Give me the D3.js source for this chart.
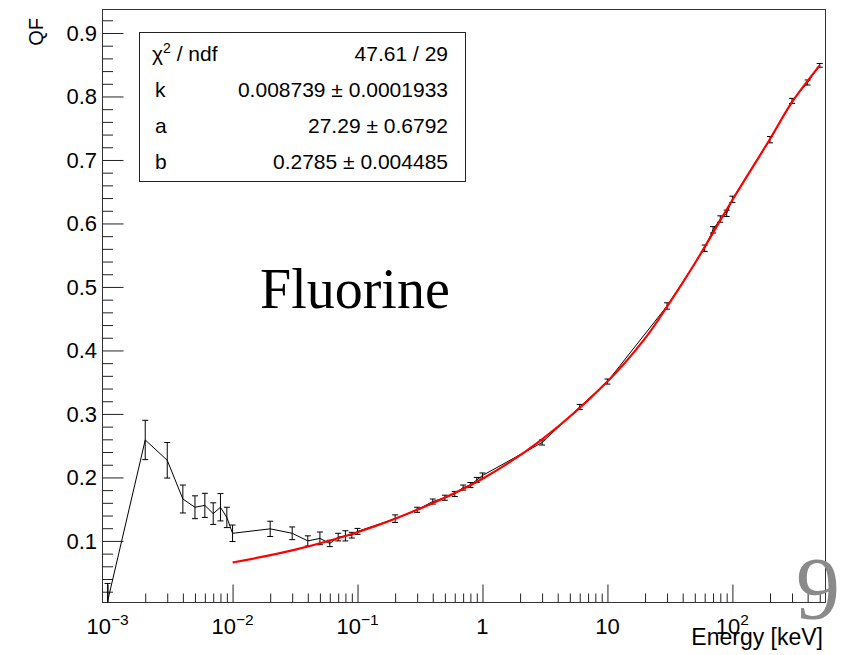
<!DOCTYPE html>
<html><head><meta charset="utf-8">
<script src="https://cdn.jsdelivr.net/npm/d3@7"></script>
<style>body{margin:0;background:#fff}svg{display:block}</style>
</head><body><svg id="c" width="846" height="655"></svg>
<script>
// ---- data ----
const energy = [0.001,0.002,0.003,0.004,0.005,0.006,0.007,0.008,0.009,0.01,0.02,0.03,0.04,0.05,0.06,0.07,0.08,0.09,0.1,0.2,0.3,0.4,0.5,0.6,0.7,0.8,0.9,1,3,6,10,30,60,70,80,90,100,200,300,400,500];
const qf = [0.005,0.259,0.227,0.166,0.153,0.156,0.143,0.153,0.137,0.112,0.119,0.112,0.100,0.104,0.096,0.106,0.108,0.109,0.115,0.135,0.149,0.162,0.168,0.174,0.184,0.188,0.196,0.203,0.255,0.311,0.351,0.470,0.561,0.590,0.607,0.616,0.638,0.732,0.793,0.822,0.849];
const qfErr = [0.028,0.031,0.028,0.022,0.018,0.019,0.017,0.0215,0.016,0.013,0.012,0.010,0.008,0.010,0.005,0.006,0.008,0.0045,0.0047,0.006,0.004,0.004,0.004,0.004,0.004,0.004,0.004,0.004,0.004,0.004,0.004,0.005,0.005,0.005,0.005,0.005,0.005,0.005,0.004,0.004,0.003];
const fitEnergy = [0.01,0.03,0.1,0.3,1,3,10,20,30,50,100,200,300,500];
const fitQF = [0.066,0.085,0.1136,0.149,0.198,0.260,0.351,0.419,0.469,0.537,0.637,0.733,0.791,0.849];
const yTicks = [0.1,0.2,0.3,0.4,0.5,0.6,0.7,0.8,0.9];
const xTickValues = [0.001,0.01,0.1,1,10,100];
const xTickBase = ["10","10","10","1","10","10"];
const xTickSup = ["\u22123","\u22122","\u22121","","","2"];
const statLabels = ["k","a","b"];
const statValues = ["47.61 / 29","0.008739 \u00b1 0.0001933","27.29 \u00b1 0.6792","0.2785 \u00b1 0.004485"];

// ---- layout ----
const L=102.5, R=825.5, T=9.5, B=602.5;
const svg = d3.select("#c");
const x = d3.scaleLog().domain([9.1e-4, 556]).range([L, R]);
const y = d3.scaleLinear().domain([0.003, 0.937]).range([B, T]);
const sans = "'Liberation Sans', Arial, Helvetica, sans-serif";
const serif = "'Liberation Serif', 'Times New Roman', serif";

svg.append("clipPath").attr("id","pc").append("rect")
  .attr("x",L).attr("y",T).attr("width",R-L).attr("height",B-T);

// frame
svg.append("rect").attr("x",L).attr("y",T).attr("width",R-L).attr("height",B-T)
  .attr("fill","none").attr("stroke","#333").attr("stroke-width",1);

// x axis ticks (log major + minor)
const xMinor = [];
for (let e=-4; e<=3; e++) for (let m=1; m<=9; m++) {
  const v = m*Math.pow(10,e);
  if (v>=x.domain()[0] && v<=x.domain()[1]) xMinor.push({v, major: m===1});
}
const xAxis = d3.axisBottom(x).tickValues(xMinor.map(d=>d.v)).tickSize(0).tickFormat("");
const xg = svg.append("g").attr("transform",`translate(0,${B})`).call(xAxis);
xg.select(".domain").remove();
xg.selectAll(".tick line").attr("y2", (d,i)=> xMinor[i].major ? -18 : -9).attr("stroke","#222");

xTickValues.forEach((v,i)=>{
  const t = svg.append("text").attr("y",634).attr("font-family",sans).attr("font-size",22).attr("fill","#000");
  t.append("tspan").text(xTickBase[i]);
  if (xTickSup[i]) t.append("tspan").attr("dy",-9).attr("font-size",15.5).text(xTickSup[i]);
  const w = t.node().getComputedTextLength();
  t.attr("x", x(v) - w/2);
});

// y axis ticks
const yMinor = d3.range(0.02, 0.937, 0.02).map(v=>+v.toFixed(2));
const yAxis = d3.axisLeft(y).tickValues(yMinor).tickSize(0).tickFormat("");
const yg = svg.append("g").attr("transform",`translate(${L},0)`).call(yAxis);
yg.select(".domain").remove();
yg.selectAll(".tick line").attr("x2", d => (Math.round(d*100)%10===0) ? 21 : 10.5).attr("stroke","#222");
svg.selectAll(".ylab").data(yTicks).enter().append("text")
  .attr("x",97).attr("y",d=>y(d)).attr("dy","0.36em").attr("text-anchor","end")
  .attr("font-family",sans).attr("font-size",22).text(d=>d.toFixed(1));

// axis titles
svg.append("text").attr("transform","translate(43,18) rotate(-90)").attr("text-anchor","end")
  .attr("font-family",sans).attr("font-size",20).text("QF");
svg.append("text").attr("x",823).attr("y",645).attr("text-anchor","end")
  .attr("font-family",sans).attr("font-size",23).text("Energy [keV]");

// data
const plot = svg.append("g").attr("clip-path","url(#pc)");
const pts = energy.map((e,i)=>({e, q: qf[i], s: qfErr[i]}));
plot.append("path").datum(pts)
  .attr("d", d3.line().x(d=>x(d.e)).y(d=>y(d.q)))
  .attr("fill","none").attr("stroke","#000").attr("stroke-width",1);
const eb = plot.selectAll(".eb").data(pts).enter().append("g");
eb.append("line").attr("x1",d=>x(d.e)).attr("x2",d=>x(d.e)).attr("y1",d=>y(d.q-d.s)).attr("y2",d=>y(d.q+d.s)).attr("stroke","#000");
eb.append("line").attr("x1",d=>x(d.e)-3).attr("x2",d=>x(d.e)+3).attr("y1",d=>y(d.q-d.s)).attr("y2",d=>y(d.q-d.s)).attr("stroke","#000");
eb.append("line").attr("x1",d=>x(d.e)-3).attr("x2",d=>x(d.e)+3).attr("y1",d=>y(d.q+d.s)).attr("y2",d=>y(d.q+d.s)).attr("stroke","#000");

// fit
const fit = fitEnergy.map((e,i)=>({e, q: fitQF[i]}));
plot.append("path").datum(fit)
  .attr("d", d3.line().x(d=>x(d.e)).y(d=>y(d.q)).curve(d3.curveCatmullRom.alpha(0.5)))
  .attr("fill","none").attr("stroke","#ff0000").attr("stroke-width",2.2);

// stats box
svg.append("rect").attr("x",139.5).attr("y",32.5).attr("width",326).attr("height",149)
  .attr("fill","#fff").attr("stroke","#222");
const rowsY = [61,97,133,169];
const fs = 21;
const chi = svg.append("text").attr("x",152).attr("y",rowsY[0]).attr("font-family",sans).attr("font-size",fs);
chi.append("tspan").text("\u03c7");
chi.append("tspan").attr("dy",-8).attr("font-size",14).text("2");
chi.append("tspan").attr("dy",8).text(" / ndf");
statLabels.forEach((s,i)=>{
  svg.append("text").attr("x",155).attr("y",rowsY[i+1]).attr("font-family",sans).attr("font-size",fs).text(s);
});
statValues.forEach((s,i)=>{
  svg.append("text").attr("x",448).attr("y",rowsY[i]).attr("text-anchor","end").attr("font-family",sans).attr("font-size",fs).text(s);
});

// annotations
svg.append("text").attr("x",260).attr("y",308).attr("font-family",serif).attr("font-size",56).text("Fluorine");
svg.append("text").attr("x",818).attr("y",618).attr("text-anchor","middle").attr("font-family",serif)
  .attr("font-size",88).attr("fill","#8a8a8a").text("9");
</script></body></html>
